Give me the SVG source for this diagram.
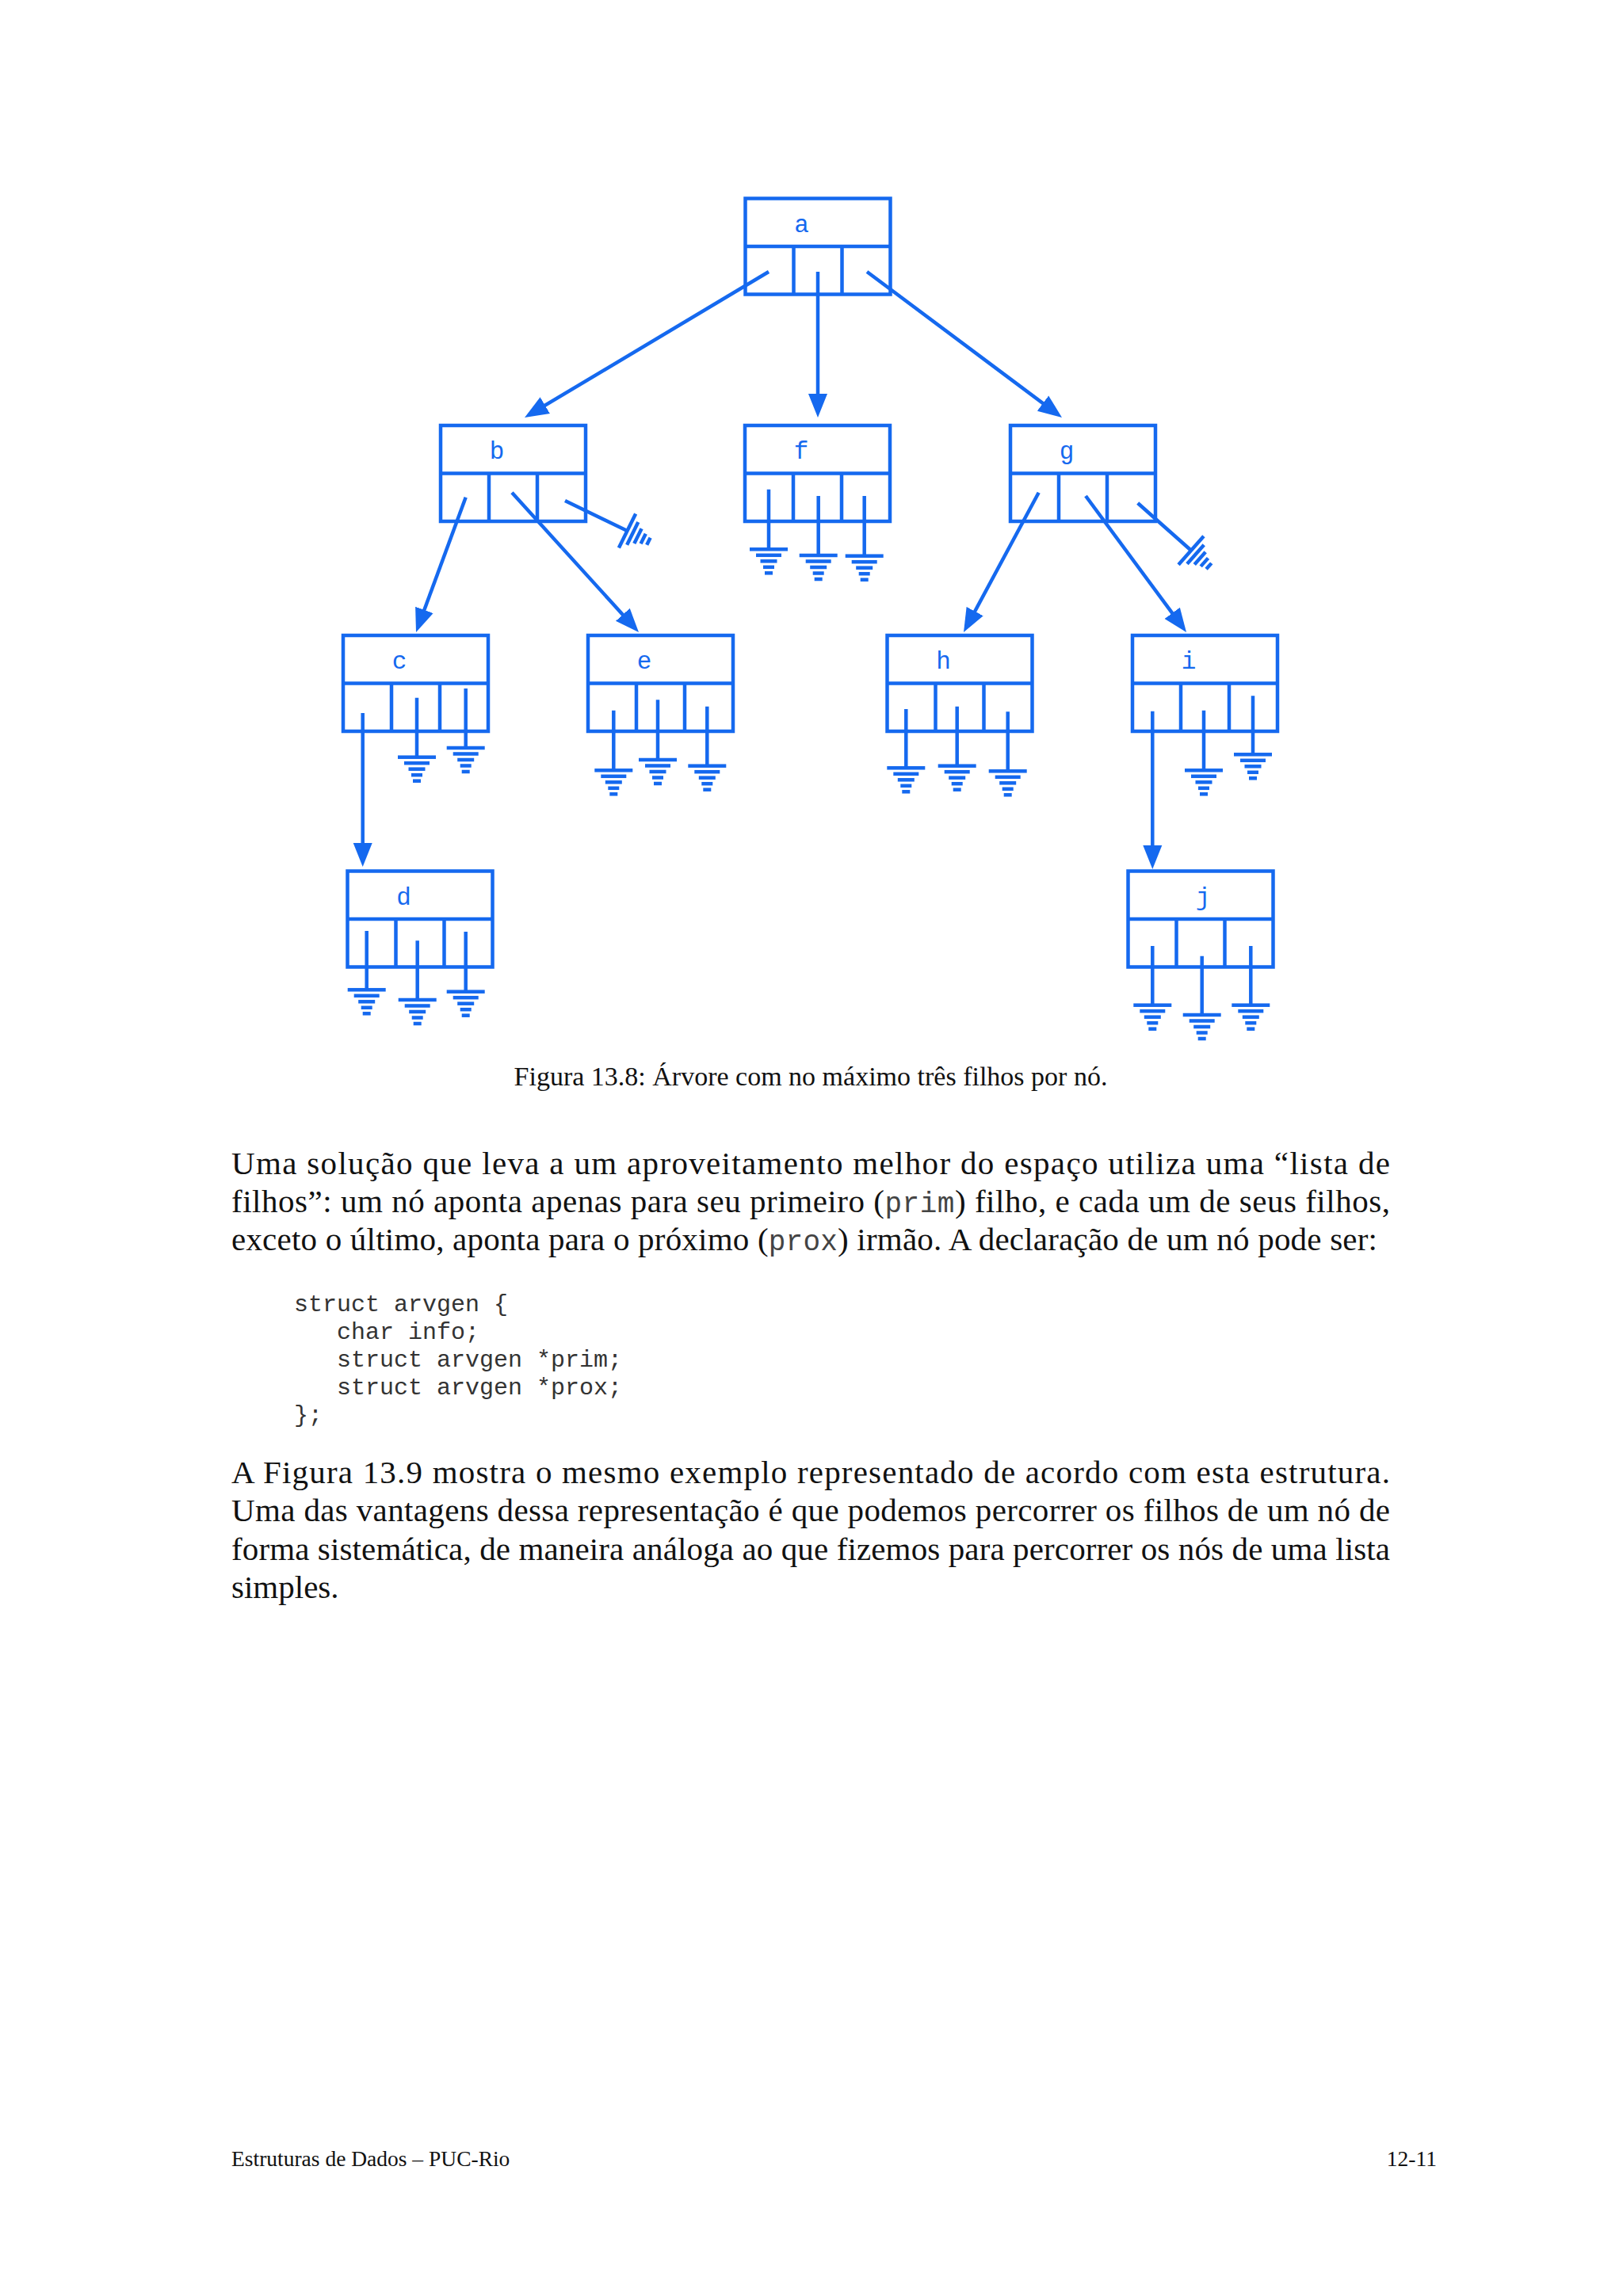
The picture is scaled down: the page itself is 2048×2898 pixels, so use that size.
<svg xmlns="http://www.w3.org/2000/svg" xmlns:xlink="http://www.w3.org/1999/xlink" width="2048" height="2898" viewBox="0 0 2048 2898">
<style>
.box{fill:none;stroke:#1569ef;stroke-width:4.5}
.ln{fill:none;stroke:#1569ef;stroke-width:4.5}
.lbl{font-family:"Liberation Mono",monospace;font-size:31px;fill:#1569ef;text-anchor:middle}
.body{font-family:"Liberation Serif",serif;font-size:41px;fill:#111}
.tt{font-family:"Liberation Mono",monospace;font-size:36px;fill:#444}
.code{font-family:"Liberation Mono",monospace;font-size:30px;fill:#333;white-space:pre}
.cap{font-family:"Liberation Serif",serif;font-size:34px;fill:#111;text-anchor:middle}
.foot{font-family:"Liberation Serif",serif;font-size:27.5px;fill:#111}
</style>
<defs>
<marker id="arr" markerUnits="userSpaceOnUse" markerWidth="32" markerHeight="26" viewBox="0 0 32 26" refX="15" refY="13" orient="auto">
<path d="M0,1 L30,13 L0,25 z" fill="#1569ef"/>
</marker>
<g id="gnd" fill="#1569ef">
<rect x="-24" y="-2.25" width="48" height="4.5"/>
<rect x="-16" y="5.25" width="32" height="4.5"/>
<rect x="-10.5" y="12.75" width="21" height="4.5"/>
<rect x="-7" y="20.25" width="14" height="4.5"/>
<rect x="-5" y="27.75" width="10" height="4.5"/>
</g>
</defs>
<rect width="2048" height="2898" fill="#ffffff"/>

<g id="node-a">
<rect class="box" x="940.5" y="250.5" width="183" height="121"/>
<path class="ln" d="M940.5,311 H1123.5 M1001.5,311 V371.5 M1062.5,311 V371.5"/>
<text class="lbl" x="1011.5" y="292.5">a</text>
</g>
<g id="node-b">
<rect class="box" x="556" y="537" width="183" height="121"/>
<path class="ln" d="M556,597.5 H739 M617,597.5 V658 M678,597.5 V658"/>
<text class="lbl" x="627" y="579">b</text>
</g>
<g id="node-f">
<rect class="box" x="940" y="537" width="183" height="121"/>
<path class="ln" d="M940,597.5 H1123 M1001,597.5 V658 M1062,597.5 V658"/>
<text class="lbl" x="1011" y="579">f</text>
</g>
<g id="node-g">
<rect class="box" x="1275" y="537" width="183" height="121"/>
<path class="ln" d="M1275,597.5 H1458 M1336,597.5 V658 M1397,597.5 V658"/>
<text class="lbl" x="1346" y="579">g</text>
</g>
<g id="node-c">
<rect class="box" x="433" y="802" width="183" height="121"/>
<path class="ln" d="M433,862.5 H616 M494,862.5 V923 M555,862.5 V923"/>
<text class="lbl" x="504" y="844">c</text>
</g>
<g id="node-e">
<rect class="box" x="742" y="802" width="183" height="121"/>
<path class="ln" d="M742,862.5 H925 M803,862.5 V923 M864,862.5 V923"/>
<text class="lbl" x="813" y="844">e</text>
</g>
<g id="node-h">
<rect class="box" x="1119.5" y="802" width="183" height="121"/>
<path class="ln" d="M1119.5,862.5 H1302.5 M1180.5,862.5 V923 M1241.5,862.5 V923"/>
<text class="lbl" x="1190.5" y="844">h</text>
</g>
<g id="node-i">
<rect class="box" x="1429" y="802" width="183" height="121"/>
<path class="ln" d="M1429,862.5 H1612 M1490,862.5 V923 M1551,862.5 V923"/>
<text class="lbl" x="1500" y="844">i</text>
</g>
<g id="node-d">
<rect class="box" x="438.5" y="1099.5" width="183" height="121"/>
<path class="ln" d="M438.5,1160 H621.5 M499.5,1160 V1220.5 M560.5,1160 V1220.5"/>
<text class="lbl" x="509.5" y="1141.5">d</text>
</g>
<g id="node-j">
<rect class="box" x="1423.5" y="1099.5" width="183" height="121"/>
<path class="ln" d="M1423.5,1160 H1606.5 M1484.5,1160 V1220.5 M1545.5,1160 V1220.5"/>
<text class="lbl" x="1518" y="1141.5">j</text>
</g>

<g id="connectors">
<line class="ln" x1="970" y1="343" x2="674.9" y2="519.3" marker-end="url(#arr)"/>
<line class="ln" x1="1032" y1="343" x2="1032" y2="512" marker-end="url(#arr)"/>
<line class="ln" x1="1094" y1="343" x2="1328" y2="518" marker-end="url(#arr)"/>
<line class="ln" x1="587.7" y1="627.7" x2="530.2" y2="783.9" marker-end="url(#arr)"/>
<line class="ln" x1="646" y1="621.7" x2="795.9" y2="786.9" marker-end="url(#arr)"/>
<line class="ln" x1="1310.7" y1="621.7" x2="1223.1" y2="784.8" marker-end="url(#arr)"/>
<line class="ln" x1="1370" y1="626" x2="1488.1" y2="785.9" marker-end="url(#arr)"/>
<line class="ln" x1="457.7" y1="900" x2="457.7" y2="1079" marker-end="url(#arr)"/>
<line class="ln" x1="1454.3" y1="897.7" x2="1454.3" y2="1082" marker-end="url(#arr)"/>

<path class="ln" d="M713,632 L791.5,670"/>
<use xlink:href="#gnd" href="#gnd" transform="translate(791.5,670) rotate(-63.7)"/>
<path class="ln" d="M1435.7,635 L1503,694.7"/>
<use xlink:href="#gnd" href="#gnd" transform="translate(1503,694.7) rotate(-48.4)"/>

<path class="ln" d="M970,617.7 V693.3 M1032.7,626 V701 M1090.7,626 V701.7"/>
<use href="#gnd" xlink:href="#gnd" x="970" y="693.3"/>
<use href="#gnd" xlink:href="#gnd" x="1032.7" y="701"/>
<use href="#gnd" xlink:href="#gnd" x="1090.7" y="701.7"/>

<path class="ln" d="M526,880.7 V955.7 M587.7,869 V944"/>
<use href="#gnd" xlink:href="#gnd" x="526" y="955.7"/>
<use href="#gnd" xlink:href="#gnd" x="587.7" y="944"/>

<path class="ln" d="M774.3,896.7 V972.3 M830,883.3 V959 M892.3,891.7 V966.7"/>
<use href="#gnd" xlink:href="#gnd" x="774.3" y="972.3"/>
<use href="#gnd" xlink:href="#gnd" x="830" y="959"/>
<use href="#gnd" xlink:href="#gnd" x="892.3" y="966.7"/>

<path class="ln" d="M1143.3,895 V969.3 M1207.7,891.7 V966.7 M1271.7,898.3 V973.3"/>
<use href="#gnd" xlink:href="#gnd" x="1143.3" y="969.3"/>
<use href="#gnd" xlink:href="#gnd" x="1207.7" y="966.7"/>
<use href="#gnd" xlink:href="#gnd" x="1271.7" y="973.3"/>

<path class="ln" d="M1519,896.7 V972.3 M1581,878.3 V952.3"/>
<use href="#gnd" xlink:href="#gnd" x="1519" y="972.3"/>
<use href="#gnd" xlink:href="#gnd" x="1581" y="952.3"/>

<path class="ln" d="M462.7,1175 V1249.3 M526.7,1187.3 V1262 M587.7,1176 V1251.7"/>
<use href="#gnd" xlink:href="#gnd" x="462.7" y="1249.3"/>
<use href="#gnd" xlink:href="#gnd" x="526.7" y="1262"/>
<use href="#gnd" xlink:href="#gnd" x="587.7" y="1251.7"/>

<path class="ln" d="M1454.3,1194 V1268.7 M1516.7,1206.7 V1281 M1578.3,1194 V1268.7"/>
<use href="#gnd" xlink:href="#gnd" x="1454.3" y="1268.7"/>
<use href="#gnd" xlink:href="#gnd" x="1516.7" y="1281"/>
<use href="#gnd" xlink:href="#gnd" x="1578.3" y="1268.7"/>
</g>

<text class="cap" x="1023" y="1370">Figura 13.8: Árvore com no máximo três filhos por nó.</text>

<text class="body" x="292" y="1482" textLength="1462" lengthAdjust="spacing">Uma solução que leva a um aproveitamento melhor do espaço utiliza uma “lista de</text>
<text class="body" x="292" y="1530" textLength="1462" lengthAdjust="spacing">filhos”: um nó aponta apenas para seu primeiro (<tspan class="tt">prim</tspan>) filho, e cada um de seus filhos,</text>
<text class="body" x="292" y="1578" textLength="1446" lengthAdjust="spacing">exceto o último, aponta para o próximo (<tspan class="tt">prox</tspan>) irmão. A declaração de um nó pode ser:</text>

<text class="code" x="371" y="1655">struct arvgen {</text>
<text class="code" x="371" y="1690">   char info;</text>
<text class="code" x="371" y="1725">   struct arvgen *prim;</text>
<text class="code" x="371" y="1760">   struct arvgen *prox;</text>
<text class="code" x="371" y="1795">};</text>

<text class="body" x="292" y="1872" textLength="1462" lengthAdjust="spacing">A Figura 13.9 mostra o mesmo exemplo representado de acordo com esta estrutura.</text>
<text class="body" x="292" y="1920" textLength="1462" lengthAdjust="spacing">Uma das vantagens dessa representação é que podemos percorrer os filhos de um nó de</text>
<text class="body" x="292" y="1969" textLength="1462" lengthAdjust="spacing">forma sistemática, de maneira análoga ao que fizemos para percorrer os nós de uma lista</text>
<text class="body" x="292" y="2017">simples.</text>

<text class="foot" x="292" y="2734">Estruturas de Dados – PUC-Rio</text>
<text class="foot" x="1813" y="2734" text-anchor="end">12-11</text>
</svg>
